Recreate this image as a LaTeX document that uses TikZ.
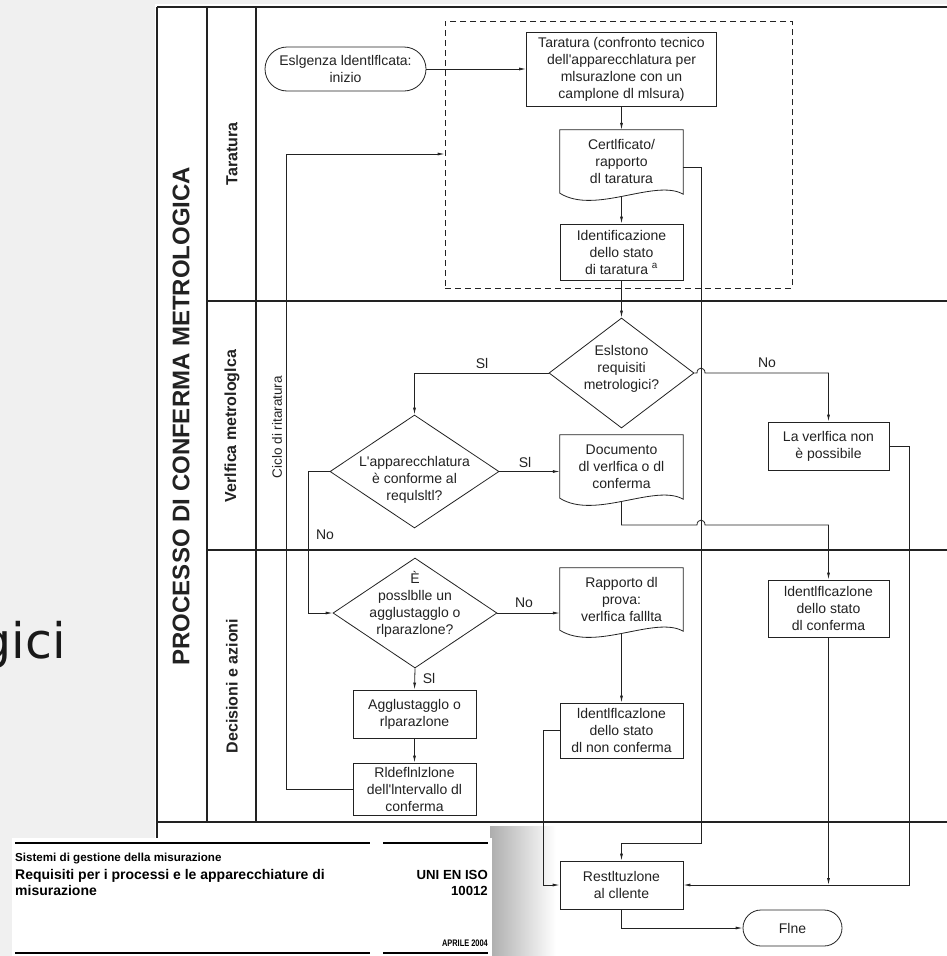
\documentclass[tikz,border=0pt]{standalone}
\usepackage{fontspec}
\setmainfont{Liberation Sans}
\newfontfamily\djvfont{DejaVu Sans}
\usetikzlibrary{arrows.meta,shapes.geometric,calc}
\definecolor{bggray}{HTML}{F0F0F0}
\definecolor{ink}{HTML}{222222}
\newcommand{\dgfont}{\fontsize{14}{17}\selectfont}
\newcommand{\docpath}[1]{\draw[ln] (#1.north west) -- (#1.north east) -- ([yshift=-1pt]#1.south east) .. controls ([xshift=-28pt,yshift=15pt]#1.south east) and ([xshift=35pt,yshift=-22pt]#1.south west) .. (#1.south west) -- cycle;}
\tikzset{
  ln/.style={draw=ink, line width=0.8pt},
  fr/.style={draw=ink, line width=1.1pt},
  arr/.style={ln, -{Latex[length=7pt,width=3pt]}},
  box/.style={draw=ink, line width=0.8pt, rectangle, inner sep=0pt, align=center, font=\dgfont, text=ink},
  docnode/.style={rectangle, inner sep=0pt, align=center, font=\dgfont, text=ink, minimum width=123pt},
  dia/.style={diamond, draw=ink, line width=0.8pt, inner sep=0pt},
  lbl/.style={font=\dgfont, text=ink, inner sep=0pt, align=center},
  lane/.style={rotate=90, font=\bfseries\fontsize{16}{16}\selectfont, text=ink, inner sep=0pt},
  cardtxt/.style={inner sep=0pt, text=black, font=\bfseries\fontsize{14}{16}\selectfont},
}
\begin{document}
\begin{tikzpicture}[x=1pt,y=-1pt]
\useasboundingbox (0,0) rectangle (947,956);
\fill[bggray] (0,0) rectangle (947,956);
\fill[white] (155,4) rectangle (947,956);

% slide text fragment
\node[anchor=base east, inner sep=0pt, font=\djvfont\fontsize{49}{49}\selectfont, text=black!90] (gici) at (66,658) {gici};

% card shadow (behind the diagram lines)
\shade[left color=black!32, right color=white] (490,826) rectangle (556,956);

% frame
\draw[fr] (157,7) -- (947,7);
\draw[fr] (157,7) -- (157,838);
\draw[fr] (207,7) -- (207,822);
\draw[fr] (256,7) -- (256,822);
\draw[fr] (207,301) -- (947,301);
\draw[fr] (207,550) -- (947,550);
\draw[fr] (157,822) -- (947,822);

\node[rotate=90, inner sep=0pt, text=ink, font=\bfseries\fontsize{24}{24}\selectfont] (title) at (181,416) {PROCESSO DI CONFERMA METROLOGICA};
\node[lane] (lane1) at (232,154) {Taratura};
\node[lane] (lane2) at (232,426) {Verlfica metrologlca};
\node[lane] (lane3) at (232,686) {Decisioni e azioni};
\node[rotate=90, inner sep=0pt, text=ink, font=\fontsize{13.5}{14}\selectfont] (ciclo) at (277,427) {Ciclo di ritaratura};

% dashed calibration box
\node[draw=ink, line width=0.8pt, dash pattern=on 6pt off 4pt, rectangle, inner sep=0pt, minimum width=347pt, minimum height=267pt] (calbox) at (618.5,154.5) {};

% nodes
\node[box, rounded corners=22pt, minimum width=161pt, minimum height=44pt] (start) at (345.5,69) {Eslgenza ldentlflcata:\\inizio};
\node[box, minimum width=190pt, minimum height=74pt] (tar) at (621.5,69) {Taratura (confronto tecnico\\dell\textquotesingle apparecchlatura per\\mlsurazlone con un\\camplone dl mlsura)};
\node[docnode, minimum height=63pt] (cert) at (621.5,161.5) {Certlficato/\\rapporto\\dl taratura};
\node[box, minimum width=123pt, minimum height=56pt] (idtar) at (621.5,252) {Identificazione\\dello stato\\di taratura \textsuperscript{a}};

\node[dia, minimum width=145pt, minimum height=110pt, label={[lbl,yshift=4pt]center:Eslstono\\requisiti\\metrologici?}] (esist) at (621.5,373) {};
\node[dia, minimum width=169pt, minimum height=113pt, label={[lbl,yshift=-8.5pt]center:L\textquotesingle apparecchlatura\\è conforme al\\requlsltl?}] (appar) at (414.5,471.5) {};
\node[docnode, minimum height=63pt] (doc) at (621.5,466.5) {Documento\\dl verlfica o dl\\conferma};
\node[box, minimum width=121pt, minimum height=48pt] (verno) at (828.5,446) {La verlfica non\\è possibile};

\node[dia, minimum width=164pt, minimum height=110pt, label={[lbl,yshift=9pt]center:È\\posslblle un\\agglustagglo o\\rlparazlone?}] (poss) at (415,613) {};
\node[docnode, minimum height=62pt] (rap) at (621.5,599) {Rapporto dl\\prova:\\verlfica falllta};
\node[box, minimum width=121pt, minimum height=57pt] (idconf) at (828.5,608.5) {ldentlflcazlone\\dello stato\\dl conferma};
\node[box, minimum width=123pt, minimum height=48pt] (agg) at (414.5,714) {Agglustagglo o\\rlparazlone};
\node[box, minimum width=123pt, minimum height=55pt] (idnon) at (621.5,730.5) {ldentlflcazlone\\dello stato\\dl non conferma};
\node[box, minimum width=123pt, minimum height=52pt] (ridef) at (414.5,789) {Rldeflnlzlone\\dell\textquotesingle lntervallo dl\\conferma};

\node[box, minimum width=123pt, minimum height=48pt] (rest) at (621.5,885) {Restltuzlone\\al cllente};
\node[box, rounded corners=18pt, minimum width=99pt, minimum height=36pt] (fine) at (792.5,928) {Flne};

\docpath{cert}
\docpath{doc}
\docpath{rap}

% connectors
\draw[arr] (start.east) -- (tar.west);
\draw[arr] (tar.south) -- (cert.north);
\draw[arr] ([yshift=-3pt]cert.south) -- (idtar.north);
\draw[arr] (idtar.south) -- (esist.north);
\draw[arr] (esist.west) -| (appar.north);
\draw[arr] (esist.east) -- (697,373) .. controls (697,366.5) and (705,366.5) .. (705,373) -| (verno.north);
\draw[arr] ([yshift=-5.5pt]cert.east) -- (701,167) -- (701,843) -| (rest.north);
\draw[arr] (appar.east) -- (appar.east -| doc.west);
\draw[arr] ([yshift=-3pt]doc.south) -- (621.5,525) -- (697,525) .. controls (697,518.5) and (705,518.5) .. (705,525) -| (idconf.north);
\draw[arr] (appar.west) -- (308,471.5) |- (poss.west);
\draw[arr] (poss.east) -- (poss.east -| rap.west);
\draw[arr] (poss.south) -- (agg.north);
\draw[arr] (agg.south) -- (ridef.north);
\coordinate (loopy) at (286,154);
\draw[arr] (ridef.west) -- (286,789) -- (loopy) -- (calbox.west |- loopy);
\draw[arr] ([yshift=-3pt]rap.south) -- (idnon.north);
\draw[arr] (idnon.west) -- (543,730.5) |- (rest.west);
\draw[arr] (verno.east) -- (909,446) |- (rest.east);
\coordinate (jn) at (828.5,885);
\draw[arr] (idconf.south) -- (jn);
\draw[arr] (rest.south) |- (fine.west);

% branch labels
\node[lbl] (l1) at (482,363) {Sl};
\node[lbl] (l2) at (767,363) {No};
\node[lbl] (l3) at (525,462) {Sl};
\node[lbl] (l4) at (325,535) {No};
\node[lbl] (l5) at (524,603) {No};
\node[lbl] (l6) at (429,678) {Sl};

% document card
\fill[white] (12,838) rectangle (492,956);
\draw[draw=black, line width=1.8pt] (15,843) -- (370,843);
\draw[draw=black, line width=1.8pt] (383,843) -- (488,843);
\draw[draw=black, line width=1.8pt] (15,953) -- (370,953);
\draw[draw=black, line width=1.8pt] (383,953) -- (488,953);
\node[cardtxt, anchor=base west, font=\bfseries\fontsize{11.6}{12}\selectfont] (c1) at (15,861) {Sistemi di gestione della misurazione};
\node[cardtxt, anchor=base west] (c2) at (15,879) {Requisiti per i processi e le apparecchiature di};
\node[cardtxt, anchor=base west] (c3) at (15,895) {misurazione};
\node[cardtxt, anchor=base east, font=\bfseries\fontsize{13.2}{15}\selectfont] (c4) at (488,879) {UNI EN ISO};
\node[cardtxt, anchor=base east, font=\bfseries\fontsize{13.2}{15}\selectfont] (c5) at (488,895) {10012};
\node[cardtxt, anchor=base east, font=\bfseries\fontsize{9.5}{10}\selectfont] (c6) at (488,946) {\scalebox{0.78}[1]{APRILE 2004}};
\end{tikzpicture}
\end{document}
